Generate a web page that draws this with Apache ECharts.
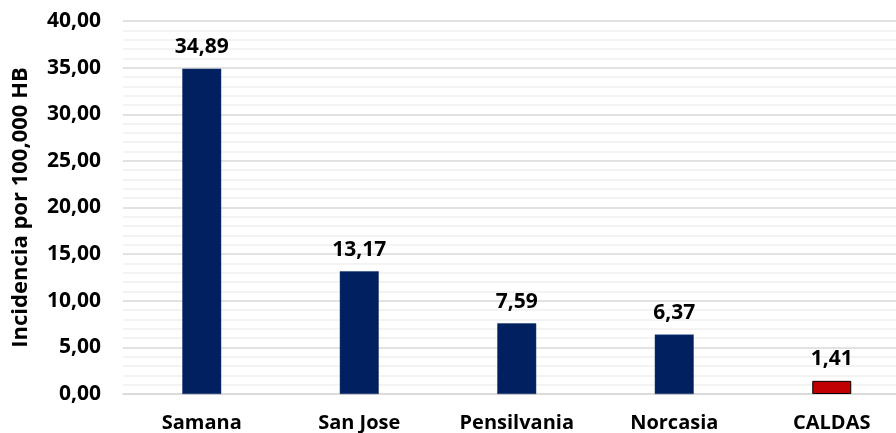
<!DOCTYPE html>
<html><head><meta charset="utf-8">
<script src="https://cdn.jsdelivr.net/npm/echarts@6/dist/echarts.min.js"></script>
<style>html,body{margin:0;padding:0;background:#fff}#c{width:896px;height:433px}</style>
</head><body><div id="c"></div>
<script>
const categories = ['Samana', 'San Jose', 'Pensilvania', 'Norcasia', 'CALDAS'];
const values = [34.89, 13.17, 7.59, 6.37, 1.41];
const barColors = ['#002060', '#002060', '#002060', '#002060', '#C00000'];
const yTicks = { min: 0, max: 40, interval: 5 };
const yName = 'Incidencia por 100,000 HB';

const fmt = v => Number(v).toFixed(2).replace('.', ',');
const FONT = 'Open Sans';
const chart = echarts.init(document.getElementById('c'), null, { renderer: 'canvas' });
chart.setOption({
  animation: false,
  grid: { left: 123, top: 21, width: 787.5, bottom: 39, containLabel: false, outerBoundsMode: 'none' },
  xAxis: {
    type: 'category', data: categories,
    axisLine: { show: true, lineStyle: { color: '#d9d9d9', width: 1.5 } },
    axisTick: { show: false },
    axisLabel: { color: '#000', fontFamily: FONT, fontWeight: 'bold', fontSize: 20, margin: 19 }
  },
  yAxis: {
    type: 'value', min: yTicks.min, max: yTicks.max, interval: yTicks.interval,
    name: yName, nameLocation: 'middle', nameGap: 91, nameRotate: 90,
    nameTextStyle: { color: '#000', fontFamily: FONT, fontWeight: 'bold', fontSize: 22 },
    axisLine: { show: false }, axisTick: { show: false },
    axisLabel: { color: '#000', fontFamily: FONT, fontWeight: 'bold', fontSize: 21, margin: 22, formatter: fmt },
    splitLine: { lineStyle: { color: '#d9d9d9', width: 1.5 } },
    minorTick: { show: false, splitNumber: 5 },
    minorSplitLine: { show: true, lineStyle: { color: '#f0f0f0', width: 1.5 } }
  },
  series: [{
    type: 'bar', barWidth: 39,
    data: values.map((v, i) => ({
      value: v,
      itemStyle: { color: barColors[i], borderColor: i === 4 ? '#000' : '#1f3a6e', borderWidth: i === 4 ? 1 : 0.5 }
    })),
    label: { show: true, position: 'top', distance: 11, color: '#000', fontFamily: FONT, fontWeight: 'bold', fontSize: 21, formatter: p => fmt(p.value) }
  }]
});
</script></body></html>
